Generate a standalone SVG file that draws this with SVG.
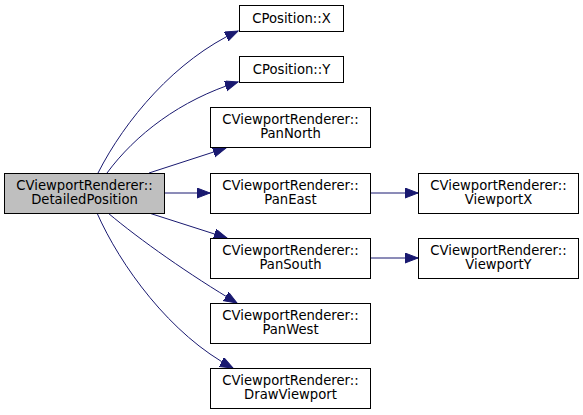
<svg xmlns="http://www.w3.org/2000/svg" width="583" height="415" viewBox="0 0 583 415">
<style>
.node rect{fill:#ffffff;stroke:#000000;stroke-width:1}
.node.cur rect{fill:#bfbfbf}
text{font-family:"DejaVu Sans",sans-serif;font-size:13.2px;fill:#000000;text-anchor:middle}
#edges path{fill:none;stroke:#191970;stroke-width:1;marker-end:url(#ah)}
</style>
<defs>
<marker id="ah" markerUnits="userSpaceOnUse" markerWidth="15" markerHeight="12" refX="13" refY="5" orient="auto">
<path d="M0,0 L13,5 L0,10 z" fill="#191970" stroke="#191970" stroke-width="1"/>
</marker>
</defs>
<rect width="583" height="415" fill="#ffffff"/>
<g id="edges">
<path d="M98,173 C125,120 175,60 238,31"/>
<path d="M107,173 C135,135 180,100 238,82"/>
<path d="M149,173 L226,148"/>
<path d="M164,193 L210,193"/>
<path d="M149,213 L227,238"/>
<path d="M108,213 C140,240 190,275 237,303"/>
<path d="M97,213 C120,265 170,335 233,368"/>
<path d="M370,193 L418,193"/>
<path d="M370,258 L418,258"/>
</g>
<g id="main" class="node cur">
<rect x="4.5" y="173.5" width="160" height="40"/>
<text x="84.5" y="190">CViewportRenderer::</text>
<text x="84.5" y="204">DetailedPosition</text>
</g>
<g id="posX" class="node">
<rect x="239.5" y="5.5" width="104" height="26"/>
<text x="291.5" y="23">CPosition::X</text>
</g>
<g id="posY" class="node">
<rect x="239.5" y="56.5" width="104" height="26"/>
<text x="291.5" y="74">CPosition::Y</text>
</g>
<g id="panNorth" class="node">
<rect x="210.5" y="107.5" width="160" height="40"/>
<text x="290.5" y="124">CViewportRenderer::</text>
<text x="290.5" y="138">PanNorth</text>
</g>
<g id="panEast" class="node">
<rect x="210.5" y="173.5" width="160" height="40"/>
<text x="290.5" y="190">CViewportRenderer::</text>
<text x="290.5" y="204">PanEast</text>
</g>
<g id="panSouth" class="node">
<rect x="210.5" y="238.5" width="160" height="40"/>
<text x="290.5" y="255">CViewportRenderer::</text>
<text x="290.5" y="269">PanSouth</text>
</g>
<g id="panWest" class="node">
<rect x="210.5" y="303.5" width="160" height="40"/>
<text x="290.5" y="320">CViewportRenderer::</text>
<text x="290.5" y="334">PanWest</text>
</g>
<g id="drawViewport" class="node">
<rect x="210.5" y="368.5" width="160" height="40"/>
<text x="290.5" y="385">CViewportRenderer::</text>
<text x="290.5" y="399">DrawViewport</text>
</g>
<g id="viewportX" class="node">
<rect x="418.5" y="173.5" width="160" height="40"/>
<text x="498.5" y="190">CViewportRenderer::</text>
<text x="498.5" y="204">ViewportX</text>
</g>
<g id="viewportY" class="node">
<rect x="418.5" y="238.5" width="160" height="40"/>
<text x="498.5" y="255">CViewportRenderer::</text>
<text x="498.5" y="269">ViewportY</text>
</g>
</svg>
